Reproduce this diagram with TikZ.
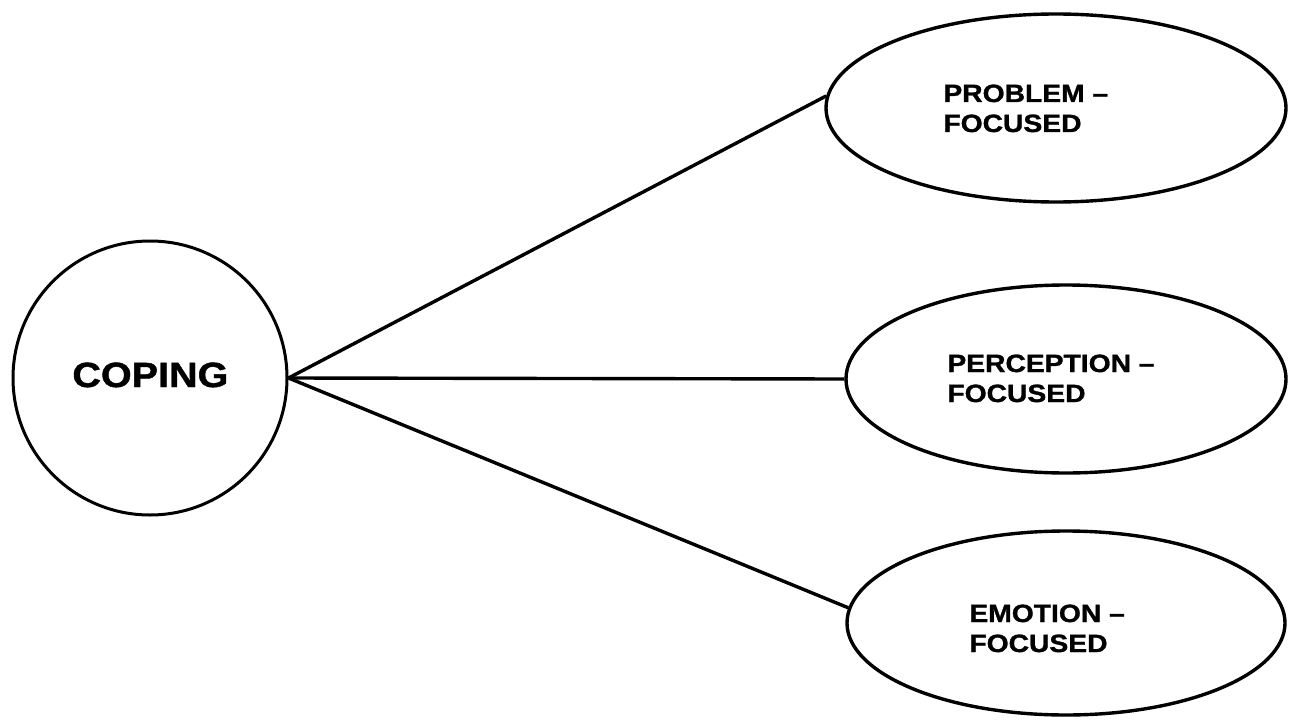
\documentclass[tikz,border=0pt]{standalone}
\usepackage{fontspec}
\newfontfamily\lblfont[FakeStretch=1.13,FakeBold=1.2]{Liberation Sans}
\usetikzlibrary{shapes.geometric}
\begin{document}
\begin{tikzpicture}[x=0.5pt,y=-0.5pt,
  hub/.style={draw,circle,minimum size=137pt,inner sep=0pt,line width=1.5pt},
  kind/.style={draw,ellipse,inner sep=0pt,line width=1.7pt},
  kindtext/.style={anchor=base west,inner sep=0pt,align=left,
    font=\lblfont\bfseries\fontsize{12.5pt}{15pt}\selectfont},
  link/.style={draw,line width=1.7pt}]
\useasboundingbox (0,0) rectangle (1300,722);

% central concept
\node[hub] (c) at (150,378) {};
\node[anchor=base west,inner sep=0pt,font=\lblfont\bfseries\fontsize{17.5pt}{20pt}\selectfont]
  (ct) at (72,387) {COPING};

% three kinds of coping
\node[kind,minimum width=230pt,minimum height=94pt] (p) at (1056,108) {};
\node[kind,minimum width=220pt,minimum height=94pt] (q) at (1066,379) {};
\node[kind,minimum width=219pt,minimum height=92pt] (r) at (1066,623) {};

% the base anchor of a two-line label sits on its last line
\node[kindtext] (pt) at (943,132) {PROBLEM –\\FOCUSED};
\node[kindtext] (qt) at (947,402) {PERCEPTION –\\FOCUSED};
\node[kindtext] (rt) at (969,652) {EMOTION –\\FOCUSED};

% connectors
\path[link] (c.east) -- (p.177);
\path[link] (c.east) -- (q.west);
\path[link] (c.east) -- (r.176);
\end{tikzpicture}
\end{document}
